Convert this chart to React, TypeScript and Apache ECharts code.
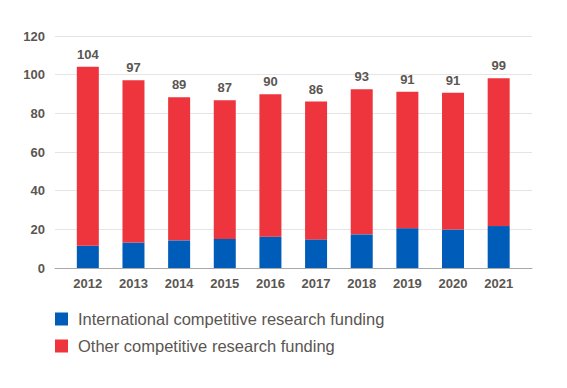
import React, { useEffect, useRef } from "react";
import * as echarts from "echarts";

const years = ["2012", "2013", "2014", "2015", "2016", "2017", "2018", "2019", "2020", "2021"];
const international = [11.5, 13.2, 14.3, 15.0, 16.2, 14.8, 17.4, 20.6, 19.9, 21.7];
const other = [92.6, 83.9, 74.0, 71.8, 73.7, 71.3, 75.0, 70.6, 70.8, 76.4];
const totalLabels = ["104", "97", "89", "87", "90", "86", "93", "91", "91", "99"];
const yTicks = [0, 20, 40, 60, 80, 100, 120];

const FONT = "'Liberation Sans', Arial, Helvetica, sans-serif";

export default function App() {
  const ref = useRef<HTMLDivElement>(null);
  useEffect(() => {
    if (!ref.current) return;
    const chart = echarts.init(ref.current, null, { renderer: "svg" });
    chart.setOption({
      animation: false,
      backgroundColor: "#ffffff",
      textStyle: { fontFamily: FONT },
      grid: [
        { left: 55, right: 35, top: 36, bottom: 120 },
        { left: 65, right: 45.5, top: 36, bottom: 120 },
      ],
      legend: {
        orient: "vertical",
        left: 55,
        top: 309,
        padding: 0,
        itemWidth: 13,
        itemHeight: 13,
        itemGap: 7,
        icon: "rect",
        textStyle: { fontSize: 16.5, lineHeight: 20, color: "#5a5652", fontFamily: FONT, padding: [0, 0, 0, 5] },
        data: ["International competitive research funding", "Other competitive research funding"],
      },
      xAxis: [
        {
          type: "category",
          gridIndex: 0,
          data: years,
          axisLabel: { show: false },
          axisTick: { show: false },
          axisLine: { show: true, lineStyle: { color: "#a8a8a8", width: 1 } },
        },
        {
          type: "category",
          gridIndex: 1,
          data: years,
          axisTick: { show: false },
          axisLine: { show: false },
          axisLabel: { fontSize: 13, fontWeight: "bold", color: "#5a5652", margin: 9, fontFamily: FONT },
        },
      ],
      yAxis: [
        {
          type: "value",
          gridIndex: 0,
          min: yTicks[0],
          max: yTicks[yTicks.length - 1],
          interval: 20,
          axisLine: { show: false },
          axisTick: { show: false },
          axisLabel: { fontSize: 13, fontWeight: "bold", color: "#5a5652", margin: 10, fontFamily: FONT },
          splitLine: { lineStyle: { color: "#e4e4e4", width: 1 } },
        },
        {
          type: "value",
          gridIndex: 1,
          min: yTicks[0],
          max: yTicks[yTicks.length - 1],
          interval: 20,
          show: false,
          splitLine: { show: false },
        },
      ],
      series: [
        {
          name: "International competitive research funding",
          type: "bar",
          stack: "total",
          xAxisIndex: 1,
          yAxisIndex: 1,
          barWidth: 22,
          itemStyle: { color: "#005cb9" },
          data: international,
        },
        {
          name: "Other competitive research funding",
          type: "bar",
          stack: "total",
          xAxisIndex: 1,
          yAxisIndex: 1,
          barWidth: 22,
          itemStyle: { color: "#ee343c" },
          label: {
            show: true,
            position: "top",
            distance: 6,
            fontSize: 13,
            fontWeight: "bold",
            color: "#5a5652",
            fontFamily: FONT,
            formatter: (p: any) => totalLabels[p.dataIndex],
          },
          data: other,
        },
      ],
    });
    return () => chart.dispose();
  }, []);
  return <div ref={ref} style={{ width: 567, height: 388, position: "absolute", left: 0, top: 0 }} />;
}
